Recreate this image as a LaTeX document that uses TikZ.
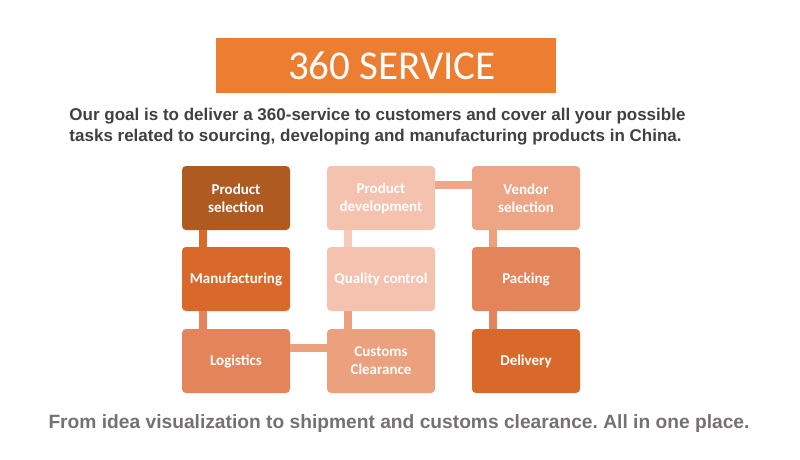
\documentclass[tikz,border=0pt]{standalone}
\usepackage{fontspec}
\setmainfont{Liberation Sans}
\newfontfamily\boxfont{Carlito}
\usetikzlibrary{positioning}
\definecolor{titleor}{HTML}{ED7D31}
\definecolor{cA}{HTML}{AE5A21}
\definecolor{cB}{HTML}{D8692B}
\definecolor{cC}{HTML}{E4845A}
\definecolor{cD}{HTML}{EBA07E}
\definecolor{cE}{HTML}{F4C2AE}
\definecolor{cF}{HTML}{EDA585}
\definecolor{subgray}{HTML}{404040}
\definecolor{botgray}{HTML}{767171}
\tikzset{
  stepbox/.style={rounded corners=4pt, minimum width=108pt, minimum height=64pt, inner sep=0pt,
    text=white, align=center, font=\boxfont\bfseries\fontsize{15}{18}\selectfont},
  conn/.style={line width=8pt}
}
\frenchspacing
\begin{document}
\begin{tikzpicture}[x=1pt,y=-1pt]
\useasboundingbox (0,0) rectangle (800,459);
\node[fill=titleor, minimum width=340pt, minimum height=55pt, inner sep=0pt, text=white,
  font=\boxfont\fontsize{41}{43}\selectfont] (title) at (386,65.5) {\hspace*{12pt}360 SERVICE};
\node[text=subgray, align=left, font=\bfseries\fontsize{17}{21}\selectfont] (sub) at (377.5,127)
  {Our goal is to deliver a 360-service to customers and cover all your possible\\
   tasks related to sourcing, developing and manufacturing products in China.};
\node[stepbox, fill=cA] (ps) at (236,198) {Product\\selection};
\node[stepbox, fill=cB] (mf) at (236,279) {Manufacturing};
\node[stepbox, fill=cC] (lg) at (236,361) {Logistics};
\node[stepbox, fill=cD] (cc) at (381,361) {Customs\\Clearance};
\node[stepbox, fill=cE] (qc) at (381,279) {Quality control};
\node[stepbox, fill=cE] (pd) at (381,198) {Product\\development};
\node[stepbox, fill=cF] (vs) at (526,198) {Vendor\\selection};
\node[stepbox, fill=cC] (pk) at (526,279) {Packing};
\node[stepbox, fill=cB] (dl) at (526,361) {Delivery};
\draw[conn, cB] ([xshift=-33pt]ps.south) -- ([xshift=-33pt]mf.north);
\draw[conn, cC] ([xshift=-33pt]mf.south) -- ([xshift=-33pt]lg.north);
\draw[conn, cD] ([yshift=13pt]lg.east) -- ([yshift=13pt]cc.west);
\draw[conn, cD] ([xshift=-33pt]cc.north) -- ([xshift=-33pt]qc.south);
\draw[conn, cE!85!white] ([xshift=-33pt]qc.north) -- ([xshift=-33pt]pd.south);
\draw[conn, cF!90!cE] ([yshift=13pt]pd.east) -- ([yshift=13pt]vs.west);
\draw[conn, cD] ([xshift=-33pt]vs.south) -- ([xshift=-33pt]pk.north);
\draw[conn, cC] ([xshift=-33pt]pk.south) -- ([xshift=-33pt]dl.north);
\node[text=botgray, font=\bfseries\fontsize{19.2}{22}\selectfont] (bot) at (399,424)
  {From idea visualization to shipment and customs clearance. All in one place.};
\end{tikzpicture}
\end{document}
